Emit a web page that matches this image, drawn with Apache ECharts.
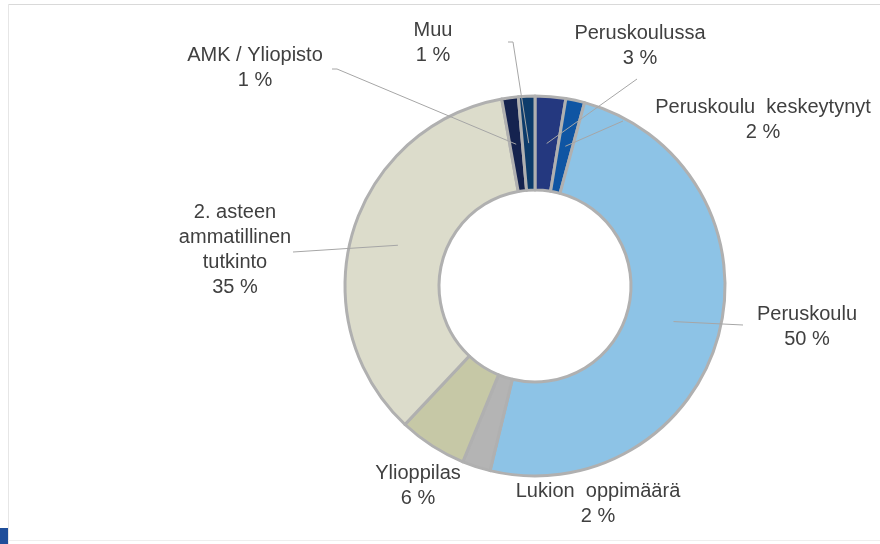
<!DOCTYPE html>
<html>
<head>
<meta charset="utf-8">
<script src="https://cdn.jsdelivr.net/npm/echarts@6/dist/echarts.min.js"></script>
<style>
html, body { margin: 0; padding: 0; background: #fff; }
#chart { width: 880px; height: 544px; }
</style>
</head>
<body>
<div id="chart"></div>
<script>
// koulutustausta, osuudet prosentteina (myötäpäivään ylhäältä)
const categories = ['Peruskoulussa', 'Peruskoulu  keskeytynyt', 'Peruskoulu', 'Lukion  oppimäärä', 'Ylioppilas', '2. asteen\nammatillinen\ntutkinto', 'AMK / Yliopisto', 'Muu'];
const shares = [2.6, 1.6, 49.6, 2.4, 5.8, 35.2, 1.4, 1.4];
const colors = ['#24387f', '#0f55a3', '#8dc3e6', '#b4b4b4', '#c6c8a6', '#dcdccb', '#15234f', '#0d3c6b'];

// label layout: text block centre, and leader line start points
const center = [535, 286];
const radii = [96, 190];
const labelPos = [[640, 46], [763, 120], [807, 327], [598, 504], [418, 486], [235, 250], [255, 68], [433, 43]];
const lineStart = [[[637, 79]], [[623, 121]], [[743, 325]], null, null, [[293, 252]], [[332, 69], [337, 69]], [[508, 42], [513, 42]]];

let myChart = echarts.init(document.getElementById('chart'));

const total = shares.reduce((a, b) => a + b, 0);
function anchorPoint(i) {
    let before = 0;
    for (let k = 0; k < i; k++) before += shares[k];
    const mid = (before + shares[i] / 2) / total * 2 * Math.PI;
    const rm = (radii[0] + radii[1]) / 2;
    return [center[0] + rm * Math.sin(mid), center[1] - rm * Math.cos(mid)];
}

let option = {
    animation: false,
    graphic: [
        { type: 'line', shape: { x1: 8, y1: 4.5, x2: 880, y2: 4.5 }, style: { stroke: '#d9d9d9', lineWidth: 1 } },
        { type: 'line', shape: { x1: 8.5, y1: 4, x2: 8.5, y2: 544 }, style: { stroke: '#e6e6e6', lineWidth: 1 } },
        { type: 'line', shape: { x1: 8, y1: 540.5, x2: 880, y2: 540.5 }, style: { stroke: '#eeeeee', lineWidth: 1 } },
        { type: 'rect', shape: { x: 0, y: 528, width: 8, height: 16 }, style: { fill: '#1f4e9a' } }
    ],
    series: [
        {
            // the ring itself
            type: 'pie',
            z: 2,
            center: center,
            radius: radii,
            startAngle: 90,
            clockwise: true,
            itemStyle: {
                borderColor: '#b0b0b0',
                borderWidth: 3
            },
            label: { show: false },
            labelLine: { show: false },
            data: categories.map((name, i) => ({
                name: name,
                value: shares[i],
                itemStyle: { color: colors[i] }
            }))
        },
        {
            // transparent copy on top, carries labels and leader lines
            type: 'pie',
            z: 3,
            silent: true,
            center: center,
            radius: radii,
            startAngle: 90,
            clockwise: true,
            avoidLabelOverlap: false,
            itemStyle: { color: 'rgba(0,0,0,0)', borderWidth: 0 },
            label: {
                show: true,
                position: 'outside',
                color: '#404040',
                fontFamily: 'Liberation Sans, Arial, sans-serif',
                fontSize: 20,
                lineHeight: 25,
                align: 'center',
                formatter(params) {
                    return params.name + '\n' + Math.round(params.value) + ' %';
                }
            },
            labelLine: {
                show: true,
                showAbove: true,
                lineStyle: { color: '#a6a6a6', width: 1 }
            },
            labelLayout(params) {
                const i = params.dataIndex;
                const res = {
                    x: labelPos[i][0],
                    y: labelPos[i][1],
                    align: 'center',
                    verticalAlign: 'middle'
                };
                if (lineStart[i]) {
                    res.labelLinePoints = lineStart[i].concat([anchorPoint(i)]);
                }
                return res;
            },
            data: categories.map((name, i) => ({
                name: name,
                value: shares[i],
                labelLine: { show: lineStart[i] !== null }
            }))
        }
    ]
};
myChart.setOption(option);
</script>
</body>
</html>
